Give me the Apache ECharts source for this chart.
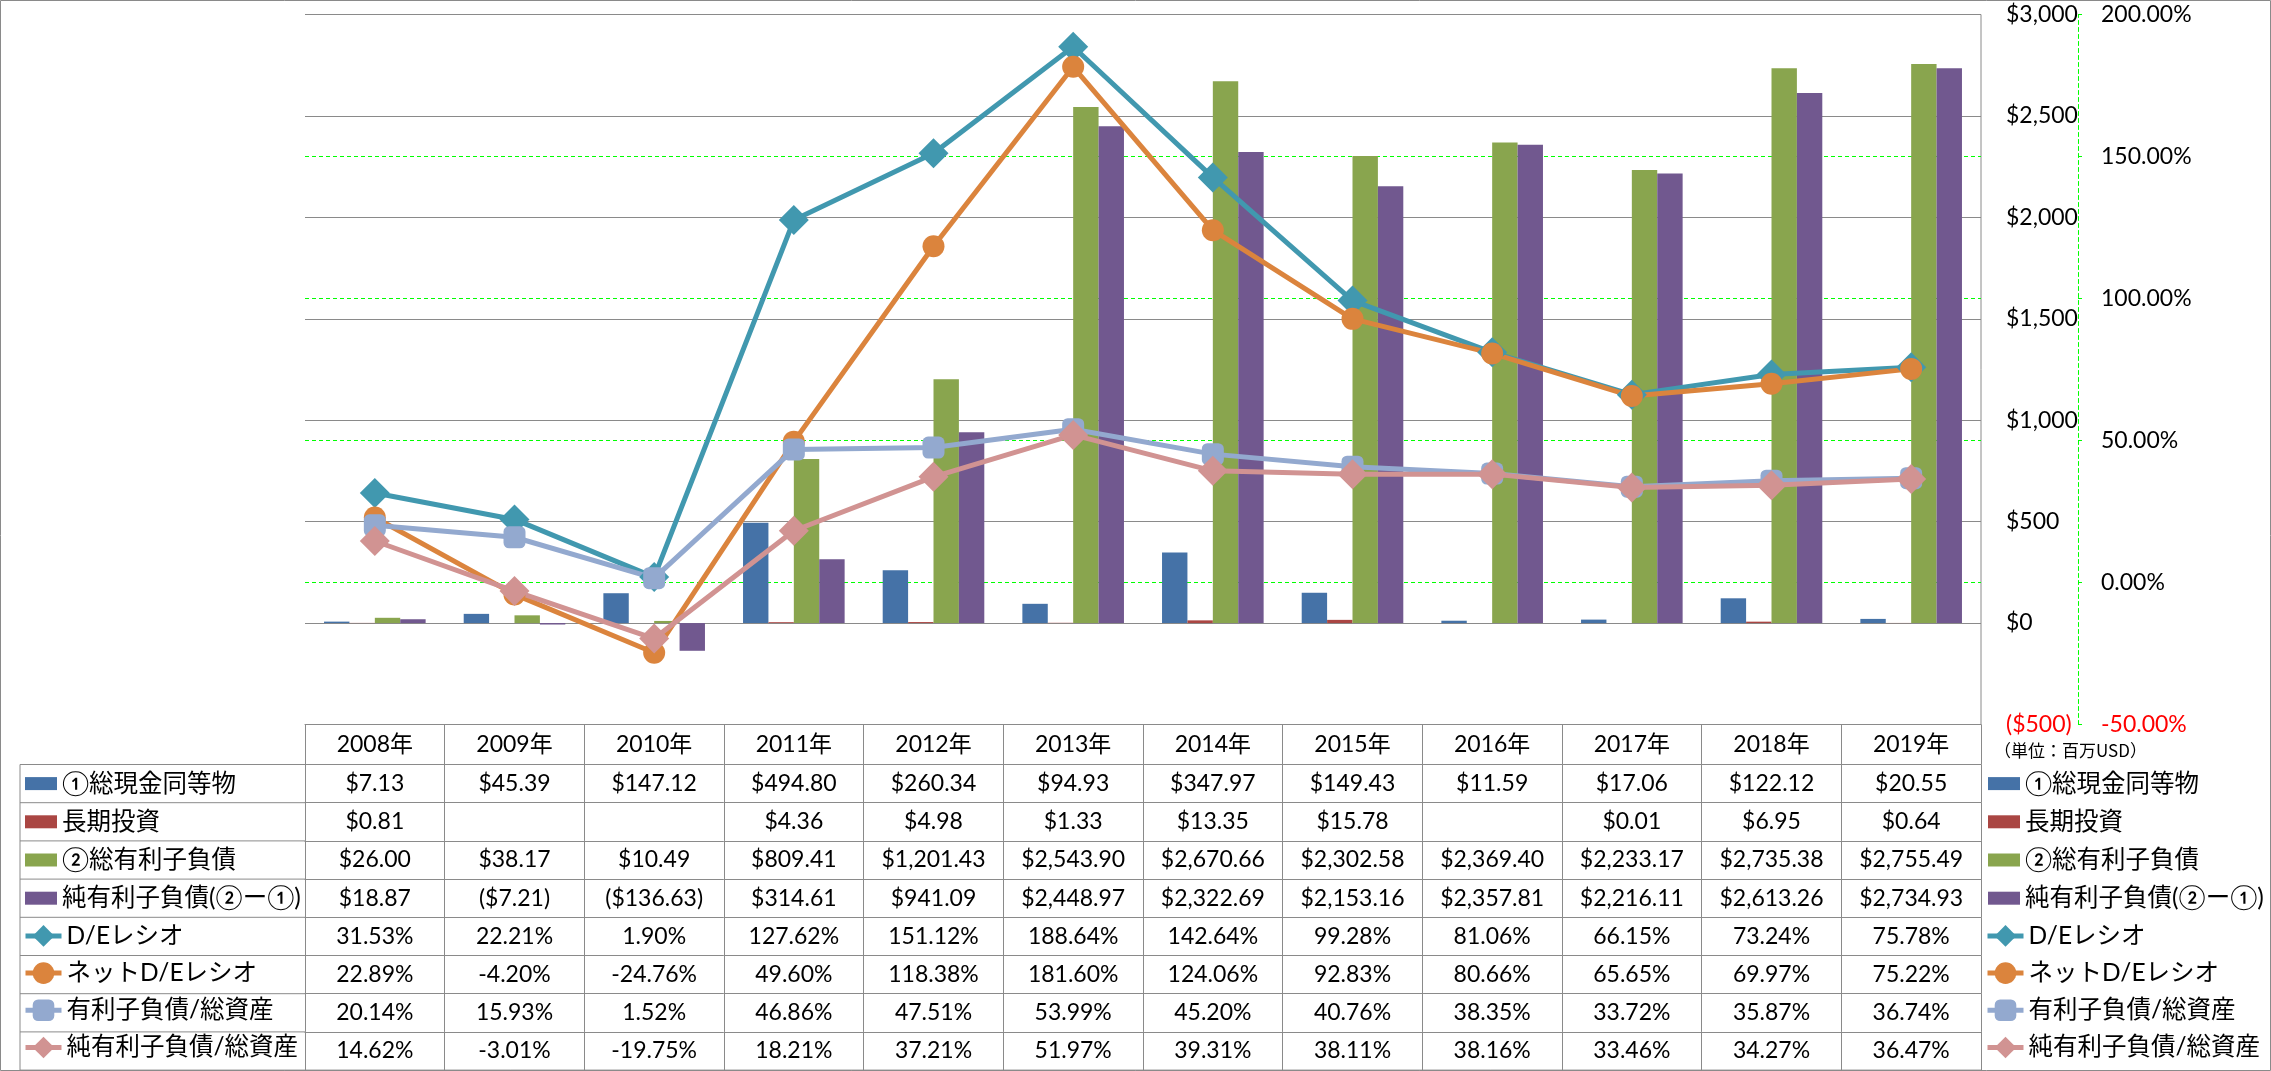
<!DOCTYPE html>
<html><head><meta charset="utf-8">
<script src="https://cdn.jsdelivr.net/npm/echarts@6/dist/echarts.min.js"></script>
<style>html,body{margin:0;padding:0;background:#fff}#c{width:2271px;height:1071px}</style>
</head><body><div id="c"></div>
<script>
// ---------- data ----------
const years = ['2008年','2009年','2010年','2011年','2012年','2013年','2014年','2015年','2016年','2017年','2018年','2019年'];
const seriesNames = ['①総現金同等物','長期投資','②総有利子負債','純有利子負債(②ー①)','D/Eレシオ','ネットD/Eレシオ','有利子負債/総資産','純有利子負債/総資産'];
const cashEq = [7.13,45.39,147.12,494.80,260.34,94.93,347.97,149.43,11.59,17.06,122.12,20.55];
const longInv = [0.81,null,null,4.36,4.98,1.33,13.35,15.78,null,0.01,6.95,0.64];
const grossDebt = [26.00,38.17,10.49,809.41,1201.43,2543.90,2670.66,2302.58,2369.40,2233.17,2735.38,2755.49];
const netDebt = [18.87,-7.21,-136.63,314.61,941.09,2448.97,2322.69,2153.16,2357.81,2216.11,2613.26,2734.93];
const deRatio = [31.53,22.21,1.90,127.62,151.12,188.64,142.64,99.28,81.06,66.15,73.24,75.78];
const netDeRatio = [22.89,-4.20,-24.76,49.60,118.38,181.60,124.06,92.83,80.66,65.65,69.97,75.22];
const debtToAssets = [20.14,15.93,1.52,46.86,47.51,53.99,45.20,40.76,38.35,33.72,35.87,36.74];
const netDebtToAssets = [14.62,-3.01,-19.75,18.21,37.21,51.97,39.31,38.11,38.16,33.46,34.27,36.47];
const usdTicks = [-500,0,500,1000,1500,2000,2500,3000];
const pctTicks = [-50,0,50,100,150,200];
const unitText = '（単位：百万USD）';

// ---------- style / layout ----------
const colors = ['#4572A7','#AA4643','#89A54E','#71588F','#4198AF','#DB843D','#93A9CF','#D19392'];
const GRID_L = 305, GRID_R = 1981, GRID_T = 14.5, GRID_B = 724.5;
const HEADER_H = 40, ROW_H = 38.2;
const LEG_L = 20;
const GRAY = '#8a8a8a', GREEN = '#00ff00';
const NUM_FONT = 'Lato, "Noto Sans CJK JP", sans-serif';
const FS = 23;

const usd = v => v == null ? '' : (v < 0 ? '($' : '$') + Math.abs(v).toLocaleString('en-US',{minimumFractionDigits:2,maximumFractionDigits:2}) + (v < 0 ? ')' : '');
const pct = v => v == null ? '' : v.toFixed(2) + '%';
const rowVals = [cashEq,longInv,grossDebt,netDebt,deRatio,netDeRatio,debtToAssets,netDebtToAssets];
const rowFmt = [usd,usd,usd,usd,pct,pct,pct,pct];

const chart = echarts.init(document.getElementById('c'), null, {renderer:'canvas'});

const xAxes = [{
  type:'category', data: years, gridIndex:0, position:'bottom', offset:0, boundaryGap:true,
  axisLine:{show:true, onZero:false, lineStyle:{color:GRAY, width:1}},
  axisTick:{show:true, interval:0, length:HEADER_H, inside:false, alignWithLabel:false, lineStyle:{color:GRAY}},
  axisLabel:{interval:0, margin:HEADER_H/2, verticalAlign:'middle', fontSize:FS, fontFamily:NUM_FONT, color:'#000'},
  splitLine:{show:false}
}];
rowVals.forEach((arr,k) => {
  xAxes.push({
    type:'category', data: years, gridIndex:0, position:'bottom', offset: HEADER_H + k*ROW_H, boundaryGap:true,
    axisLine:{show:true, onZero:false, lineStyle:{color:GRAY, width:1}},
    axisTick:{show:true, interval:0, length:ROW_H, inside:false, alignWithLabel:false, lineStyle:{color:GRAY}},
    axisLabel:{interval:0, margin:ROW_H/2, verticalAlign:'middle', fontSize:FS, fontFamily:NUM_FONT, color:'#000',
      formatter:(v,i) => rowFmt[k](arr[i])},
    splitLine:{show:false}
  });
});

const tableBottom = GRID_B + HEADER_H + 8*ROW_H;
const graphics = [
  {type:'rect', silent:true, z:0, shape:{x:0.5,y:0.5,width:2270,height:1070}, style:{fill:'none', stroke:GRAY, lineWidth:1}},
  {type:'line', silent:true, shape:{x1:GRID_R, y1:GRID_T, x2:GRID_R, y2:GRID_B}, style:{stroke:GRAY, lineWidth:1}},
  {type:'line', silent:true, shape:{x1:LEG_L, y1:tableBottom, x2:GRID_R, y2:tableBottom}, style:{stroke:GRAY, lineWidth:1}},
  {type:'line', silent:true, shape:{x1:LEG_L, y1:GRID_B+HEADER_H, x2:LEG_L, y2:tableBottom}, style:{stroke:GRAY, lineWidth:1}},
  {type:'text', silent:true, left:1994, top:742, style:{text:unitText, fontSize:17, fontFamily:'"Noto Sans CJK JP", sans-serif', fill:'#000'}}
];
for (let k=0;k<8;k++){
  const y = GRID_B + HEADER_H + k*ROW_H;
  graphics.push({type:'line', silent:true, shape:{x1:LEG_L, y1:y, x2:GRID_L, y2:y}, style:{stroke:GRAY, lineWidth:1}});
}

const legText = {fontSize:24.5, lineHeight:26, fontFamily:'Lato, "Noto Sans CJK JP", sans-serif', color:'#000'};
const row1Center = GRID_B + HEADER_H + ROW_H/2;
const LINE_ICON_H = 27;
const barLegend = {orient:'vertical', padding:0, itemGap:ROW_H-26, selectedMode:false, textStyle:legText,
  itemWidth:32, itemHeight:13, icon:'rect', data:seriesNames.slice(0,4)};
const lineLegend = {orient:'vertical', padding:0, itemGap:ROW_H-LINE_ICON_H, selectedMode:false, textStyle:legText,
  itemWidth:36, itemHeight:LINE_ICON_H, lineStyle:{width:5}, data:seriesNames.slice(4)};
const legends = [
  Object.assign({}, barLegend, {left:25, top:row1Center-13}),
  Object.assign({}, lineLegend, {left:23, top:row1Center+4*ROW_H-LINE_ICON_H/2}),
  Object.assign({}, barLegend, {left:1988, top:row1Center-13}),
  Object.assign({}, lineLegend, {left:1985, top:row1Center+4*ROW_H-LINE_ICON_H/2})
];

const barData = [cashEq,longInv,grossDebt,netDebt];
const lineData = [deRatio,netDeRatio,debtToAssets,netDebtToAssets];
const lineSymbols = [['diamond',30],['circle',22],['roundRect',22],['diamond',30]];
const series = [];
barData.forEach((d,i) => series.push({
  name:seriesNames[i], type:'bar', xAxisIndex:0, yAxisIndex:0, data:d,
  barWidth:25.4, barGap:'0%', itemStyle:{color:colors[i]}, emphasis:{disabled:true}
}));
lineData.forEach((d,i) => series.push({
  name:seriesNames[4+i], type:'line', xAxisIndex:0, yAxisIndex:1, data:d,
  symbol:lineSymbols[i][0], symbolSize:lineSymbols[i][1], showAllSymbol:true,
  lineStyle:{width:5, color:colors[4+i]}, itemStyle:{color:colors[4+i]}, z:3, emphasis:{disabled:true}
}));

chart.setOption({
  animation:false,
  backgroundColor:'#fff',
  grid:{left:GRID_L, top:GRID_T, width:GRID_R-GRID_L, height:GRID_B-GRID_T, containLabel:false, outerBoundsMode:'none'},
  legend:legends,
  xAxis:xAxes,
  yAxis:[
    {type:'value', position:'right', offset:0, z:1, min:usdTicks[0], max:usdTicks[usdTicks.length-1], interval:500,
     axisLine:{show:false}, axisTick:{show:false},
     axisLabel:{margin:25, align:'left', fontSize:FS, fontFamily:NUM_FONT,
       color:v => v < 0 ? '#ff0000' : '#000',
       formatter:v => (v < 0 ? '($' : '$') + Math.abs(v).toLocaleString('en-US') + (v < 0 ? ')' : '')},
     splitLine:{show:true, lineStyle:{color:GRAY, width:1}}},
    {type:'value', position:'right', offset:97, z:0, min:pctTicks[0], max:pctTicks[pctTicks.length-1], interval:50,
     axisLine:{show:true, lineStyle:{color:GREEN, type:[4,3], width:1}},
     axisTick:{show:true, length:7, inside:false, lineStyle:{color:GREEN, type:[4,3]}},
     axisLabel:{margin:23, align:'left', fontSize:FS, fontFamily:NUM_FONT,
       color:v => v < 0 ? '#ff0000' : '#000',
       formatter:v => v.toFixed(2) + '%'},
     splitLine:{show:true, lineStyle:{color:GREEN, type:[4,3], width:1}}}
  ],
  graphic:graphics,
  series:series
});
</script></body></html>
